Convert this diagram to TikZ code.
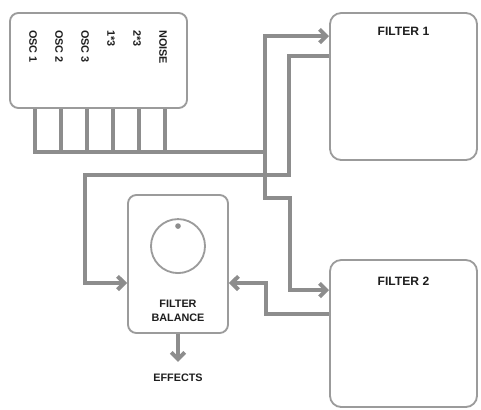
\documentclass[tikz,border=0pt]{standalone}
\usepackage{fontspec}
\setmainfont{Liberation Sans}
\usetikzlibrary{calc,positioning,arrows.meta}
\definecolor{wiregray}{RGB}{141,141,141}
\definecolor{boxgray}{RGB}{155,155,155}
\definecolor{inkgray}{RGB}{30,30,30}

\begin{document}
\begin{tikzpicture}[x=0.025cm, y=-0.025cm, >={Straight Barb[length=4.8pt,width=9.5pt]}, font=\bfseries]
\def \lwire {2.8pt}
\def \lbox {1.3pt}
  \tikzstyle{block} = [draw=boxgray, fill=white, rectangle, rounded corners=6pt,
                       line width=\lbox, inner sep=0]
  \tikzstyle{knob} = [draw=boxgray, circle, line width=\lbox, minimum size=1.35cm, inner sep=0]
  \tikzstyle{knobdotstyle} = [fill=wiregray, circle, minimum size=4pt, inner sep=0]
  \tikzstyle{heading} = [text=inkgray, inner sep=0, font=\bfseries\fontsize{8.6}{10}\selectfont]
  \tikzstyle{caption} = [text=inkgray, inner sep=0, align=center, font=\bfseries\fontsize{7.7}{9.9}\selectfont]
  \tikzstyle{source} = [caption, rotate=-90, anchor=west]
  \tikzstyle{lines} = [wiregray, line width=\lwire, ->]
  \tikzstyle{lines2} = [wiregray, line width=\lwire, -]

\useasboundingbox (0,0) rectangle (481,409);

%%%%%%%%%%%%%%%%%%%%%%%%%%%%%%%%%%%%%%%%%%%%%%%%%%%%%%%%%%%%%%%%%%%%%%%%%%%%%%%

\coordinate (osc_pose) at (98.5, 60.5);
\coordinate (filterone_pose) at (403.5, 86.5);
\coordinate (filtertwo_pose) at (403.5, 333.5);
\coordinate (balance_pose) at (178, 264);
\coordinate (hub) at (265, 152);
\coordinate (bend) at (85, 175);

%%%%%%%%%%%%%%%%%%%%%%%%%%%%%%%%%%%%%%%%%%%%%%%%%%%%%%%%%%%%%%%%%%%%%%%%%%%%%%%

\node[block, minimum width=4.425cm, minimum height=2.375cm] (osc) at (osc_pose) {};
\node[block, rounded corners=8pt, minimum width=3.675cm, minimum height=3.675cm] (filterone) at (filterone_pose) {};
\node[block, rounded corners=8pt, minimum width=3.675cm, minimum height=3.675cm] (filtertwo) at (filtertwo_pose) {};
\node[block, minimum width=2.5cm, minimum height=3.45cm] (balance) at (balance_pose) {};

\node[knob] (knob) at ([yshift=-1.3cm]balance.north) {};
\node[knobdotstyle] (knobdot) at ([yshift=0.5cm]knob.center) {};

\node[heading, below=0.37cm] (titleone) at (filterone.north) {FILTER 1};
\node[heading, below=0.44cm] (titletwo) at (filtertwo.north) {FILTER 2};
\node[caption, above=0.3cm] (balancetext) at (balance.south) {FILTER\\BALANCE};
\node[caption, below=1.0cm] (effects) at (balance.south) {EFFECTS};

\foreach \lab [count=\i] in {OSC 1, OSC 2, OSC 3, 1*3, 2*3, NOISE} {
  \coordinate (tap\i) at ({35+26*(\i-1)}, 152);
  \node[source] (src\i) at ({33+26*(\i-1)}, 30) {\lab};
  \draw[lines2] (tap\i |- osc.south) -- (tap\i);
}

%%%%%%%%%%%%%%%%%%%%%%%%%%%%%%%%%%%%%%%%%%%%%%%%%%%%%%%%%%%%%%%%%%%%%%%%%%%%%%%

\draw[lines2] (tap1 |- osc.south) -- (tap1) -- (hub);
\draw[lines] (hub) |- ([yshift=-0.6cm]filterone.north west);
\draw[lines] (hub) -- ++(0,46) -- ++(25,0) |- ([yshift=-0.775cm]filtertwo.north west);

\draw[lines] ([yshift=-1.1cm]filterone.north west) -- ++(-40,0) |- (bend) |- ([yshift=-0.475cm]balance.west);
\draw[lines] ([yshift=-1.375cm]filtertwo.north west) -- ++(-63,0) |- ([yshift=-0.475cm]balance.east);
\draw[lines, shorten >=0.3cm] (balance.south) -- (effects.north);

\end{tikzpicture}
\end{document}
